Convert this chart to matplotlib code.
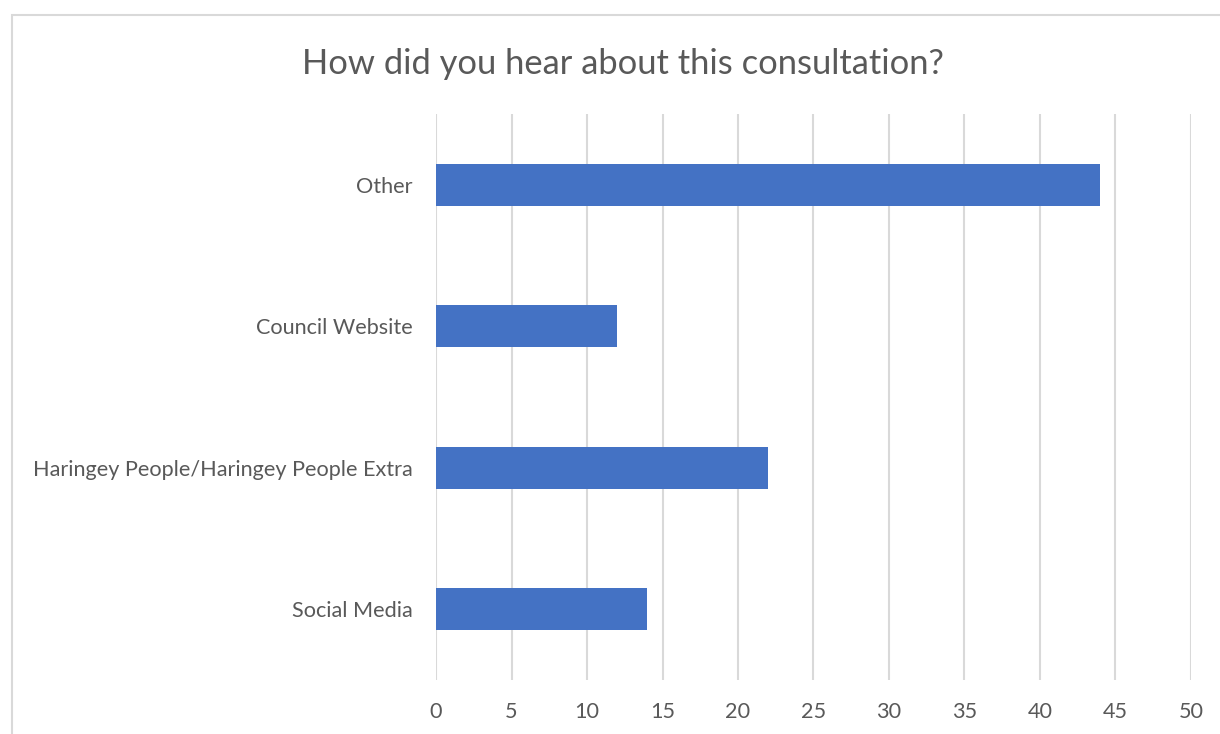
import matplotlib.pyplot as plt
from matplotlib.patches import Rectangle

# survey answers, drawn bottom to top
categories = ["Social Media", "Haringey People/Haringey People Extra", "Council Website", "Other"]
counts = [14, 22, 12, 44]
xticks = [0, 5, 10, 15, 20, 25, 30, 35, 40, 45, 50]

plt.rcParams['font.family'] = ['Lato', 'DejaVu Sans']
text_color = '#595959'

fig = plt.figure(figsize=(12.2, 7.34), dpi=100)
ax = fig.add_axes([0.3574, 0.0736, 0.6188, 0.7711])

ax.barh(range(len(categories)), counts, height=0.3, color='#4472C4', zorder=3)
ax.set_ylim(-0.5, len(categories) - 0.5)
ax.set_xlim(0, 50)
ax.set_xticks(xticks)
ax.set_yticks(range(len(categories)))
ax.set_yticklabels(categories)

ax.grid(axis='x', color='#D9D9D9', linewidth=1.5, zorder=0)
for s in ax.spines.values():
    s.set_visible(False)
ax.tick_params(length=0, labelsize=15.6, labelcolor=text_color)
ax.tick_params(axis='x', pad=16)
ax.tick_params(axis='y', pad=17)

fig.text(0.5107, 0.913, "How did you hear about this consultation?", ha='center', va='center',
         fontsize=24.8, color=text_color)

# outer chart border (only left and top show in the crop)
fig.patches.append(Rectangle((12 / 1220, -0.1), 1.2, 1 - 15 / 734 + 0.1, transform=fig.transFigure,
                             fill=False, edgecolor='#D9D9D9', linewidth=1.5))

fig.savefig('out.png', dpi=100)
